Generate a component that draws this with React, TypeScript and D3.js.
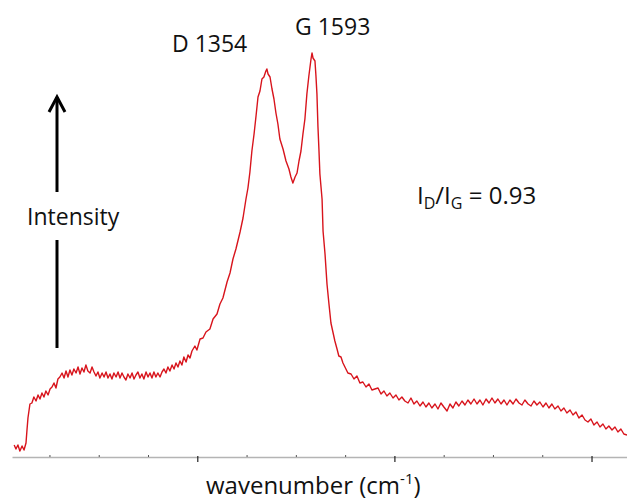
import React, { useRef, useEffect } from 'react';
import * as d3 from 'd3';

// Raman spectrum: wavenumber (cm-1) and intensity (counts, arbitrary)
const wavenumber = [
  71, 80, 90, 100, 111, 121, 131, 136, 141, 151, 161, 171, 182, 192, 202, 212, 222, 232, 243, 253,
  263, 273, 283, 293, 303, 314, 324, 334, 344, 354, 364, 374, 385, 395, 405, 415, 425, 435, 445, 456,
  466, 476, 486, 496, 506, 517, 527, 537, 547, 557, 567, 577, 588, 598, 608, 618, 628, 638, 648, 659,
  669, 679, 689, 699, 709, 719, 729, 740, 750, 760, 770, 780, 790, 800, 811, 821, 831, 841, 851, 861,
  872, 882, 892, 902, 912, 922, 932, 943, 953, 963, 973, 988, 998, 1014, 1029, 1044, 1064, 1080, 1100, 1115,
  1130, 1151, 1166, 1181, 1196, 1217, 1232, 1247, 1257, 1267, 1277, 1288, 1298, 1308, 1318, 1328, 1338, 1348, 1353, 1359,
  1369, 1379, 1389, 1399, 1409, 1419, 1435, 1450, 1465, 1475, 1485, 1496, 1506, 1516, 1526, 1536, 1546, 1556, 1566, 1577,
  1582, 1587, 1597, 1602, 1607, 1612, 1617, 1622, 1633, 1638, 1648, 1658, 1668, 1678, 1688, 1698, 1709, 1718, 1729, 1739,
  1749, 1764, 1780, 1795, 1810, 1825, 1840, 1856, 1871, 1886, 1901, 1917, 1932, 1947, 1962, 1977, 1993, 2008, 2023, 2038,
  2053, 2069, 2084, 2099, 2114, 2130, 2145, 2160, 2175, 2190, 2206, 2221, 2236, 2251, 2267, 2282, 2297, 2312, 2327, 2343,
  2358, 2373, 2388, 2404, 2419, 2434, 2449, 2465, 2480, 2495, 2510, 2525, 2541, 2556, 2571, 2586, 2602, 2617, 2632, 2647,
  2662, 2678, 2693, 2708, 2723, 2738, 2754, 2769, 2784, 2799, 2814, 2830, 2845, 2860, 2875, 2891, 2906, 2921, 2936, 2952,
  2967, 2982, 2997, 3012, 3028, 3043, 3058, 3073, 3088, 3104, 3119, 3134, 3149, 3164, 3180,
];
const intensity = [
  150, 110, 150, 90, 140, 100, 170, 300, 420, 560, 570, 630, 590, 650, 610, 670, 630, 690, 650, 710,
  730, 770, 720, 810, 830, 870, 820, 890, 830, 900, 850, 910, 870, 930, 860, 920, 880, 950, 890, 870,
  930, 880, 840, 880, 820, 870, 830, 880, 820, 860, 810, 870, 830, 880, 820, 870, 830, 800, 860, 820,
  870, 810, 850, 880, 820, 860, 810, 880, 830, 870, 820, 880, 830, 870, 830, 880, 910, 870, 930, 890,
  950, 910, 970, 930, 990, 950, 1030, 980, 1050, 1020, 1090, 1140, 1100, 1210, 1220, 1280, 1310, 1410, 1460, 1560,
  1620, 1780, 1870, 2010, 2110, 2280, 2420, 2610, 2720, 2880, 3090, 3260, 3440, 3630, 3690, 3810, 3830, 3890, 3910, 3860,
  3830, 3710, 3610, 3470, 3360, 3210, 3110, 2990, 2910, 2830, 2770, 2830, 2870, 2990, 3090, 3260, 3410, 3660, 3840, 4010,
  4070, 4020, 3990, 3840, 3660, 3340, 3110, 2860, 2610, 2290, 2060, 1760, 1560, 1370, 1280, 1190, 1110, 1040, 1030, 970,
  930, 870, 860, 810, 840, 770, 780, 730, 760, 700, 710, 720, 660, 690, 640, 670, 620, 650, 600, 630,
  590, 570, 620, 560, 590, 540, 580, 530, 570, 520, 560, 510, 570, 530, 490, 560, 520, 580, 540, 590,
  550, 600, 560, 610, 560, 600, 550, 610, 570, 620, 570, 610, 560, 600, 550, 600, 560, 610, 570, 550,
  600, 560, 540, 590, 550, 580, 530, 570, 520, 560, 510, 540, 490, 520, 470, 500, 450, 480, 420, 450,
  400, 380, 410, 350, 380, 330, 360, 310, 340, 300, 330, 280, 310, 260, 250,
];
const minorTicks = [250, 500, 750, 1250, 1500, 1750, 2250, 2500, 2750];
const majorTicks = [1000, 2000, 3000];

const points: [number, number][] = wavenumber.map((w, i) => [w, intensity[i]]);

const W = 627;
const H = 500;
const font = '"Open Sans", "Noto Sans", sans-serif';

export default function App() {
  const axisRef = useRef<SVGGElement>(null);

  const x = d3.scaleLinear().domain([60, 3180]).range([12, 627]);
  const y = d3.scaleLinear().domain([0, 4600]).range([460, 0]);
  const axisY = 457;

  useEffect(() => {
    const g = d3.select(axisRef.current);
    g.selectAll('*').remove();

    const minor = g.append('g')
      .attr('transform', `translate(0,${axisY})`)
      .call(d3.axisBottom(x).tickValues(minorTicks).tickSize(2).tickSizeOuter(0).tickFormat(() => ''));
    minor.select('.domain').attr('stroke', '#b4b4b4').attr('stroke-width', 1.6);
    minor.selectAll('.tick line').attr('stroke', '#555').attr('transform', 'translate(0,-2)');

    const major = g.append('g')
      .attr('transform', `translate(0,${axisY})`)
      .call(d3.axisBottom(x).tickValues(majorTicks).tickSize(6).tickSizeOuter(0).tickFormat(() => ''));
    major.select('.domain').remove();
    major.selectAll('.tick line').attr('stroke', '#222').attr('stroke-width', 1.2).attr('transform', 'translate(0,-1)');
  }, []);

  const line = d3.line<[number, number]>()
    .x(d => x(d[0]))
    .y(d => y(d[1]));

  return (
    <svg width={W} height={H} style={{ position: 'absolute', left: 0, top: 0, background: '#fff' }}>
      <g ref={axisRef} />

      <path d={line(points) ?? ''} fill="none" stroke="#d8141c" strokeWidth={1.4} strokeLinejoin="round" />

      {/* peak labels */}
      <text x={172} y={52} fontFamily={font} fontSize={23} fill="#111">D 1354</text>
      <text x={295} y={35} fontFamily={font} fontSize={23} fill="#111">G 1593</text>

      {/* intensity arrow */}
      <line x1={57} y1={192} x2={57} y2={97} stroke="#000" strokeWidth={3} />
      <polyline points="49,112 57,97 65,112" fill="none" stroke="#000" strokeWidth={3} />
      <line x1={57} y1={240} x2={57} y2={348} stroke="#000" strokeWidth={3} />
      <text x={27} y={225} fontFamily={font} fontSize={23} fill="#111">Intensity</text>

      {/* ratio */}
      <text x={417} y={204} fontFamily={font} fontSize={24} fill="#111">
        I<tspan fontSize={16} dy={5}>D</tspan>
        <tspan dy={-5}>/I</tspan>
        <tspan fontSize={16} dy={5}>G</tspan>
        <tspan dy={-5}> = 0.93</tspan>
      </text>

      {/* x label */}
      <text x={206} y={494} fontFamily={font} fontSize={24} fill="#111">
        wavenumber (cm<tspan fontSize={15} dy={-10}>-1</tspan>
        <tspan dy={10}>)</tspan>
      </text>
    </svg>
  );
}
